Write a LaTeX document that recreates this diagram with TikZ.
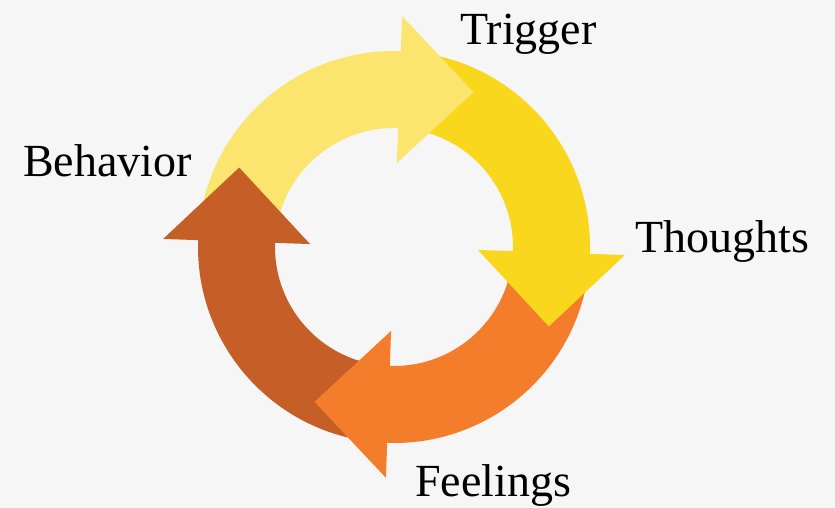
\documentclass[tikz,border=0pt]{standalone}
\usepackage{fontspec}
\setmainfont{Liberation Serif}
\usetikzlibrary{calc}
\definecolor{bg}{HTML}{F6F6F6}
\definecolor{cA}{HTML}{FCE56F}
\definecolor{cB}{HTML}{F9D71C}
\definecolor{cC}{HTML}{F47D2B}
\definecolor{cD}{HTML}{C65F27}
\begin{document}
\begin{tikzpicture}[x=1pt,y=1pt,
  lbl/.style={font=\fontsize{46}{50}\selectfont, inner sep=0pt, anchor=base west}]
\fill[bg] (0,0) rectangle (835,508);
\useasboundingbox (0,0) rectangle (835,508);
\coordinate (C) at (394,261);
% shafts (annular sectors); both ends are tucked under an arrow head
\foreach \a/\b/\c in {175/86/cA, 85/-4/cB, -5/-94/cC, -95/-184/cD} {
  \fill[\c] ($(C)+(\a:196)$) arc[start angle=\a, end angle=\b, radius=196]
    -- ($(C)+(\b:119)$) arc[start angle=\b, end angle=\a, radius=119] -- cycle;
}
% heads
\foreach \b/\c in {88/cA, -2/cB, -92/cC, 178/cD} {
  \pgfmathsetmacro{\t}{\b-90}
  \fill[\c] ($(C)+(\b:84)$) -- ($(C)+(\b:231)$)
    -- ($(C)+(\b:157.5)+(\t:74)$) -- cycle;
}
\node[lbl] (trigger) at (460,463) {Trigger};
\node[lbl] (thoughts) at (635,255) {Thoughts};
\node[lbl] (behavior) at (23,331) {Behavior};
\node[lbl] (feelings) at (415,11) {Feelings};
\end{tikzpicture}
\end{document}
